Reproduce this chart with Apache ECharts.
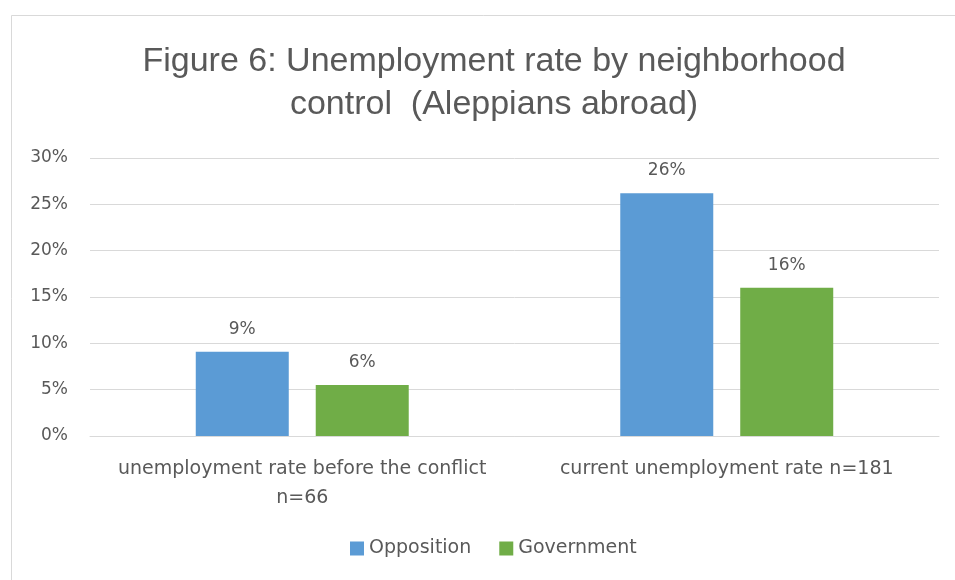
<!DOCTYPE html>
<html>
<head>
<meta charset="utf-8">
<script src="https://cdn.jsdelivr.net/npm/echarts@6/dist/echarts.min.js"></script>
<style>
  html, body { margin: 0; padding: 0; background: #fff; }
  #chart { width: 955px; height: 580px; }
</style>
</head>
<body>
<div id="chart"></div>
<script>
// data
var categories = ['unemployment rate before the conflict\nn=66', 'current unemployment rate n=181'];
var seriesNames = ['Opposition', 'Government'];
var opposition = [9.1, 26.2];
var government = [5.5, 16.0];
var yTicks = [0, 5, 10, 15, 20, 25, 30];

var colors = ['#5B9BD5', '#70AD47'];
var textColor = '#595959';
var titleFont = 'Liberation Sans';
var font = 'DejaVu Sans';

var chart = echarts.init(document.getElementById('chart'), null, { renderer: 'canvas' });

function barSeries(name, values, color) {
  return {
    name: name,
    type: 'bar',
    data: values,
    barWidth: 93,
    barGap: '29%',
    itemStyle: { color: color },
    label: {
      show: true,
      position: 'top',
      distance: 14,
      color: textColor,
      fontFamily: font,
      fontSize: 17,
      formatter: function (p) { return Math.round(p.value) + '%'; }
    }
  };
}

var option = {
  backgroundColor: '#ffffff',
  animation: false,
  color: colors,
  title: {
    text: 'Figure 6: Unemployment rate by neighborhood\ncontrol  (Aleppians abroad)',
    left: 489,
    top: 35,
    textAlign: 'center',
    textStyle: {
      color: textColor,
      fontFamily: titleFont,
      fontWeight: 'normal',
      fontSize: 34,
      lineHeight: 43
    }
  },
  graphic: [{
    type: 'rect',
    shape: { x: 11.5, y: 15.5, width: 1000, height: 600 },
    style: { fill: 'none', stroke: '#d9d9d9', lineWidth: 1 },
    silent: true
  }],
  legend: {
    data: seriesNames,
    bottom: 17,
    left: 345,
    itemWidth: 14,
    itemHeight: 14,
    itemGap: 28,
    icon: 'rect',
    textStyle: { color: textColor, fontFamily: font, fontSize: 19 }
  },
  grid: { left: 90, right: 16, top: 158, bottom: 144, containLabel: false },
  xAxis: {
    type: 'category',
    data: categories,
    axisLine: { lineStyle: { color: '#d9d9d9' } },
    axisTick: { show: false },
    axisLabel: {
      color: textColor,
      fontFamily: font,
      fontSize: 19,
      margin: 19,
      lineHeight: 29,
      interval: 0
    }
  },
  yAxis: {
    type: 'value',
    min: yTicks[0],
    max: yTicks[yTicks.length - 1],
    interval: 5,
    axisLine: { show: false },
    axisTick: { show: false },
    splitLine: { lineStyle: { color: '#d9d9d9' } },
    axisLabel: {
      color: textColor,
      fontFamily: font,
      fontSize: 17,
      margin: 22,
      formatter: '{value}%'
    }
  },
  series: [
    barSeries(seriesNames[0], opposition, colors[0]),
    barSeries(seriesNames[1], government, colors[1])
  ]
};

chart.setOption(option);
</script>
</body>
</html>
